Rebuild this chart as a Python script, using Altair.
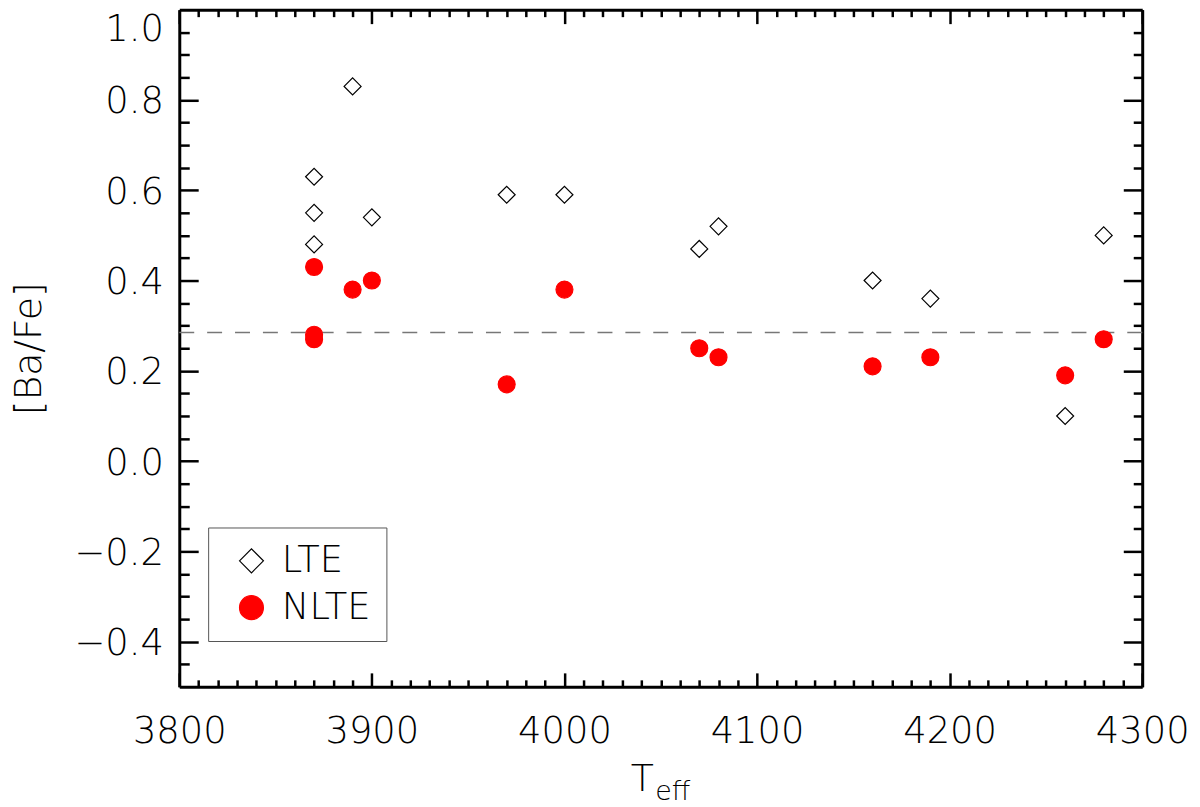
import altair as alt
import pandas as pd
import numpy as np

# ---- data ----
teff_lte = [3870, 3870, 3870, 3890, 3900, 3970, 4000, 4070, 4080, 4160, 4190, 4260, 4280]
bafe_lte = [0.63, 0.55, 0.48, 0.83, 0.54, 0.59, 0.59, 0.47, 0.52, 0.40, 0.36, 0.10, 0.50]
teff_nlte = [3870, 3870, 3870, 3890, 3900, 3970, 4000, 4070, 4080, 4160, 4190, 4260, 4280]
bafe_nlte = [0.43, 0.28, 0.27, 0.38, 0.40, 0.17, 0.38, 0.25, 0.23, 0.21, 0.23, 0.19, 0.27]
mean_line = [0.285]
series_names = ["LTE", "NLTE"]

x_labels = [3800, 3900, 4000, 4100, 4200, 4300]
y_labels = [-0.4, -0.2, 0.0, 0.2, 0.4, 0.6, 0.8, 1.0]
x_minor = [v for v in range(3810, 4300, 10) if v % 100 != 0]
y_major = [-0.4, -0.2, 0.0, 0.2, 0.4, 0.6, 0.8]
y_minor = [round(v, 2) for v in np.arange(-0.45, 1.0, 0.05) if abs(round(v / 0.2) * 0.2 - v) > 1e-6]

df = pd.DataFrame({
    "Teff": teff_lte + teff_nlte,
    "BaFe": bafe_lte + bafe_nlte,
    "Type": [series_names[0]] * len(teff_lte) + [series_names[1]] * len(teff_nlte),
})

FONT = "DejaVu Sans"
FW = 200
W, H = 967, 680

xs = alt.Scale(domain=[3800, 4300], nice=False, zero=False)
ys = alt.Scale(domain=[-0.5, 1.0], nice=False, zero=False)


def tick_axis(orient, offset, values, size, domain=False):
    return alt.Axis(orient=orient, offset=offset, values=values, tickSize=size,
                    grid=False, domain=domain, domainColor="black", domainWidth=3,
                    labels=False, title=None,
                    ticks=True, tickColor="black", tickWidth=2.5)


legend = alt.Legend(orient="none", legendX=29, legendY=520, title=None,
                    strokeColor="#555555", fillColor="white", padding=15,
                    symbolOffset=10, symbolSize=576, symbolStrokeWidth=1.2,
                    labelFontSize=37, labelFont=FONT, labelFontWeight=FW,
                    labelColor="black", labelOffset=12, rowPadding=9)

points = alt.Chart(df).mark_point(size=290, strokeWidth=1.2, opacity=1).encode(
    x=alt.X("Teff:Q", scale=xs, axis=alt.Axis(
        orient="bottom", grid=False, domain=False, ticks=False, tickSize=0,
        values=x_labels, format="d", labelFlush=False, labelPadding=27,
        labelFontSize=37, labelFont=FONT, labelFontWeight=FW, labelColor="black",
        title=None)),
    y=alt.Y("BaFe:Q", scale=ys, axis=alt.Axis(
        orient="left", grid=False, domain=False, ticks=False, tickSize=0,
        values=y_labels, format=".1f", labelFlush=True, labelPadding=16,
        labelOffset=2, labelFontSize=37, labelFont=FONT, labelFontWeight=FW,
        labelColor="black", title="[Ba/Fe]", titleX=-150, titleY=340,
        titleAngle=270, titleAlign="center", titleBaseline="middle",
        titleFontSize=38, titleFont=FONT, titleFontWeight=FW, titleColor="black")),
    shape=alt.Shape("Type:N", scale=alt.Scale(domain=series_names, range=["diamond", "circle"]), legend=legend),
    fill=alt.Fill("Type:N", scale=alt.Scale(domain=series_names, range=["transparent", "#ff0000"]), legend=legend),
    stroke=alt.Stroke("Type:N", scale=alt.Scale(domain=series_names, range=["black", "#ff0000"]), legend=legend),
)


def tick_layer(xaxis, yaxis):
    return alt.Chart(df).mark_point(opacity=0).encode(
        x=alt.X("Teff:Q", scale=xs, axis=xaxis),
        y=alt.Y("BaFe:Q", scale=ys, axis=yaxis),
    )


bottom_major = tick_layer(tick_axis("top", -H, x_labels, 14, True), tick_axis("right", -W, y_major, 19, True))
bottom_minor = tick_layer(tick_axis("top", -H, x_minor, 7), tick_axis("right", -W, y_minor, 10))
top_major = tick_layer(tick_axis("bottom", -H, x_labels, 14, True), tick_axis("left", -W, y_major, 19, True))
top_minor = tick_layer(tick_axis("bottom", -H, x_minor, 7), tick_axis("left", -W, y_minor, 9))

rule = alt.Chart(pd.DataFrame({"m": mean_line})).mark_rule(
    color="#777777", strokeDash=[15, 13], strokeWidth=1.5
).encode(y=alt.Y("m:Q", scale=ys, axis=None))

t_main = alt.Chart(pd.DataFrame({"t": ["T"]})).mark_text(
    align="center", baseline="alphabetic", fontSize=38, font=FONT, fontWeight=FW, color="black"
).encode(x=alt.value(465), y=alt.value(785), text="t:N")
t_sub = alt.Chart(pd.DataFrame({"t": ["eff"]})).mark_text(
    align="left", baseline="alphabetic", fontSize=27, font=FONT, fontWeight=FW, color="black"
).encode(x=alt.value(478), y=alt.value(794), text="t:N")

chart = alt.layer(
    rule, points, bottom_major, bottom_minor, top_major, top_minor, t_main, t_sub
).resolve_axis(x="independent", y="independent").properties(
    width=W, height=H,
    padding={"left": 172, "top": 0, "right": 50, "bottom": 119},
    autosize=alt.AutoSizeParams(type="none"),
).configure_view(stroke=None).configure(font=FONT)

chart.save("out.html", embed_options={"renderer": "svg", "actions": False})
